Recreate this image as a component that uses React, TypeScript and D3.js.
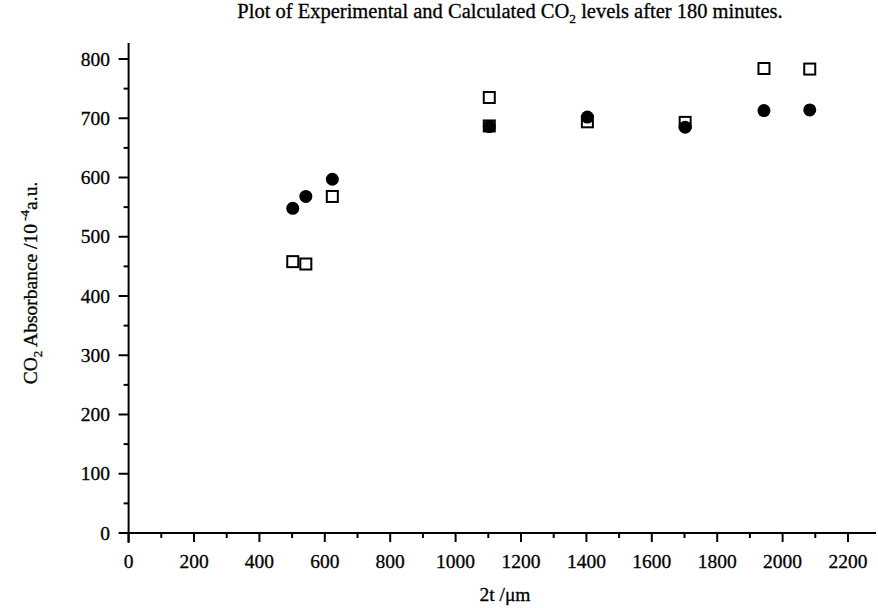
import React from "react";
import * as d3 from "d3";

const xTicks = [0, 200, 400, 600, 800, 1000, 1200, 1400, 1600, 1800, 2000, 2200];
const yTicks = [0, 100, 200, 300, 400, 500, 600, 700, 800];

// Experimental (open squares)
const expX = [502, 542, 623, 1103, 1103, 1403, 1702, 1943, 2083];
const expY = [458, 454, 568, 735, 687, 694, 693, 784, 783];
// Calculated (filled circles)
const calcX = [502, 542, 623, 1103, 1403, 1702, 1943, 2083];
const calcY = [548, 568, 597, 686, 702, 685, 713, 714];

const W = 878;
const H = 608;
const FONT = "'Liberation Serif', 'DejaVu Serif', serif";
const TS = { stroke: "#000", strokeWidth: 0.3 };

export default function App() {
  const x = d3.scaleLinear().domain([0, 2200]).range([128.6, 848]);
  const y = d3.scaleLinear().domain([0, 800]).range([533, 59]);
  const minorX = d3.range(100, 2300, 200);
  const minorY = d3.range(50, 850, 100);
  const y0 = y(0);
  const x0 = x(0);
  return (
    <svg width={W} height={H} style={{ position: "absolute", left: 0, top: 0, background: "#fff" }}>
      <rect x={0} y={0} width={W} height={H} fill="#fff" />
      <text x={510} y={18} textAnchor="middle" fontFamily={FONT} fontSize={20.5} fill="#000" {...TS}>
        Plot of Experimental and Calculated CO
        <tspan dy={5} fontSize={13.5}>2</tspan>
        <tspan dy={-5}> levels after 180 minutes.</tspan>
      </text>
      {/* axes */}
      <line x1={120} x2={876} y1={y0} y2={y0} stroke="#000" strokeWidth={2} />
      <line x1={x0} x2={x0} y1={43} y2={543} stroke="#000" strokeWidth={2} />
      {xTicks.map((t) => (
        <g key={"xt" + t}>
          <line x1={x(t)} x2={x(t)} y1={y0} y2={y0 + 9} stroke="#000" strokeWidth={2} />
          <text x={x(t)} y={568} textAnchor="middle" fontFamily={FONT} fontSize={19.5} fill="#000" {...TS}>
            {t}
          </text>
        </g>
      ))}
      {minorX.map((t) => (
        <line key={"xm" + t} x1={x(t)} x2={x(t)} y1={y0} y2={y0 + 5} stroke="#000" strokeWidth={2} />
      ))}
      {yTicks.map((t) => (
        <g key={"yt" + t}>
          <line x1={x0 - 10} x2={x0} y1={y(t)} y2={y(t)} stroke="#000" strokeWidth={2} />
          <text x={110} y={y(t) + 6.5} textAnchor="end" fontFamily={FONT} fontSize={19.5} fill="#000" {...TS}>
            {t}
          </text>
        </g>
      ))}
      {minorY.map((t) => (
        <line key={"ym" + t} x1={x0 - 5} x2={x0} y1={y(t)} y2={y(t)} stroke="#000" strokeWidth={2} />
      ))}
      {/* axis titles */}
      <text x={505} y={601} textAnchor="middle" fontFamily={FONT} fontSize={19.5} fill="#000" {...TS}>
        2t /μm
      </text>
      <text
        transform={`translate(37,283) rotate(-90)`}
        textAnchor="middle"
        fontFamily={FONT}
        fontSize={19.5}
        fill="#000"
        {...TS}
      >
        CO
        <tspan dy={5} fontSize={13}>2</tspan>
        <tspan dy={-5}> Absorbance /10</tspan>
        <tspan dy={-8} fontSize={13}> -4</tspan>
        <tspan dy={8}>a.u.</tspan>
      </text>
      {/* data */}
      {calcX.map((v, i) => (
        <circle key={"c" + i} cx={x(v)} cy={y(calcY[i])} r={6.5} fill="#000" />
      ))}
      {expX.map((v, i) => (
        <rect
          key={"s" + i}
          x={x(v) - 5.5}
          y={y(expY[i]) - 5.5}
          width={11}
          height={11}
          fill="none"
          stroke="#000"
          strokeWidth={2}
        />
      ))}
    </svg>
  );
}
